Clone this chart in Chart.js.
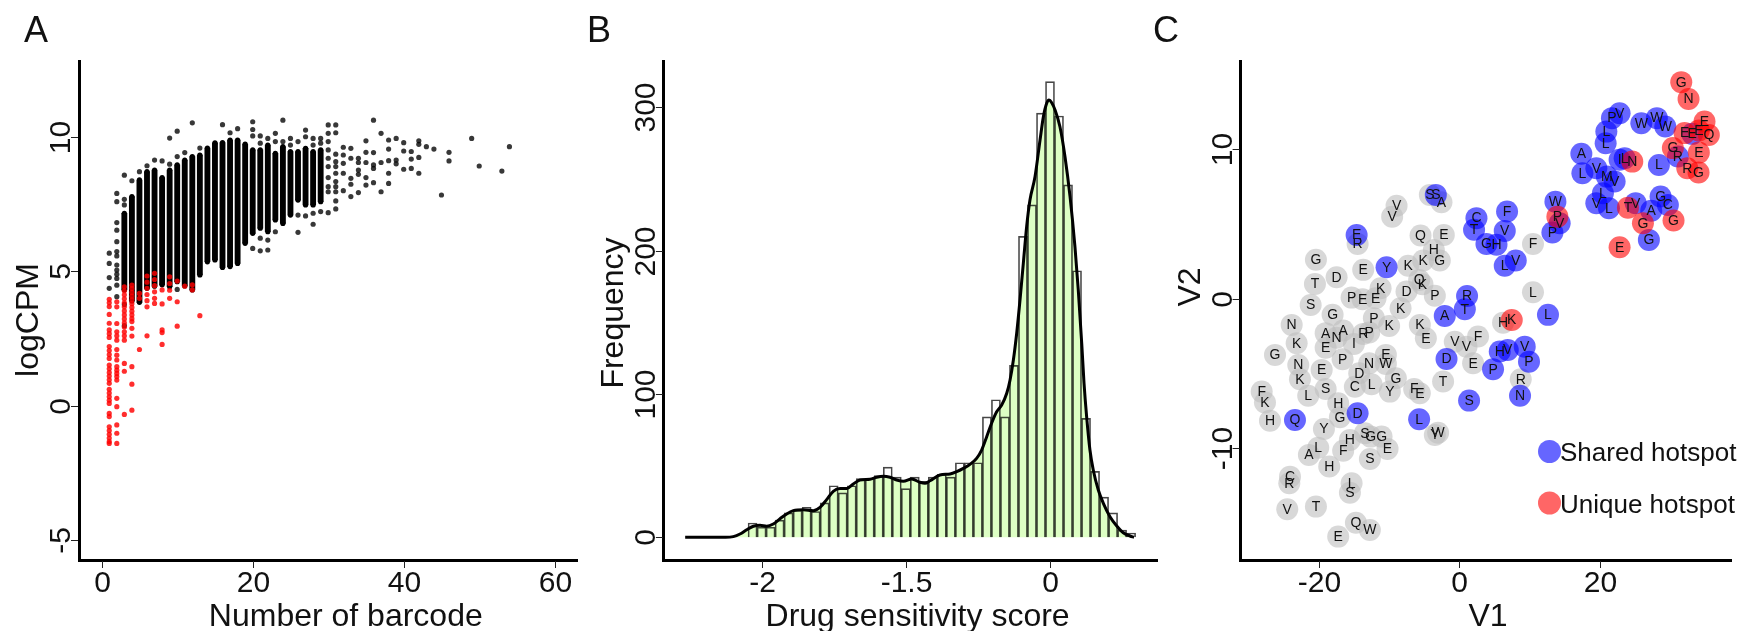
<!DOCTYPE html>
<html>
<head>
<meta charset="utf-8">
<script src="https://cdn.jsdelivr.net/npm/chart.js@4.4.0/dist/chart.umd.min.js"></script>
<style>
  body { margin: 0; background: #fff; }
  #wrap { position: relative; width: 1742px; height: 631px; }
  #wrap canvas { position: absolute; left: 0; top: 0; }
</style>
</head>
<body>
<div id="wrap">
  <canvas id="chartA" width="1742" height="631"></canvas>
  <canvas id="chartB" width="1742" height="631"></canvas>
  <canvas id="chartC" width="1742" height="631"></canvas>
</div>
<script>
const FONT = '"Liberation Sans", Arial, sans-serif';

// ---------- Panel A : logCPM vs number of barcode ----------
// dense black columns (barcode count, lowest and highest logCPM of the solid run)
const colX  = [3, 4, 5, 6, 7, 8, 9, 10, 11, 12, 13, 14, 15, 16, 17, 18, 19, 20, 21, 22, 23, 24, 25, 26, 27, 28, 29];
const colLo = [4.31, 3.90, 3.85, 4.37, 4.45, 4.50, 4.43, 4.62, 4.46, 4.31, 4.87, 5.36, 5.43, 5.15, 5.18, 5.30, 6.05, 6.42, 6.61, 6.48, 6.92, 6.79, 7.10, 7.66, 7.48, 7.48, 7.60];
const colHi = [7.17, 7.79, 8.41, 8.72, 8.78, 8.50, 8.78, 8.97, 9.15, 9.28, 9.34, 9.60, 9.79, 9.80, 9.90, 9.90, 9.75, 9.53, 9.53, 9.71, 9.40, 9.65, 9.47, 9.47, 9.59, 9.47, 9.53];
// single black dots
const blackDotX = [1, 2, 3, 4, 5, 6, 7, 8, 9, 10, 11, 12, 13, 16, 17, 18, 20, 21, 22, 23, 24, 25, 26, 27, 28, 29, 30, 31, 32, 33, 34, 35, 36, 37, 38, 39, 40, 41, 42, 43, 44, 45, 46, 49, 50, 53, 54];
const blackDotY = [
  [5.68, 5.30, 4.77, 4.37],
  [7.91, 7.60, 6.82, 6.54, 6.11, 5.74, 5.58, 5.24, 5.05, 4.90, 4.74, 4.49, 4.06],
  [8.59, 7.69, 7.48, 3.77, 2.98],
  [8.38], [8.72], [8.94], [9.15], [9.12], [9.97, 9.00], [10.23, 9.28, 4.33], [9.43], [10.54], [9.60],
  [10.47], [10.17], [10.32],
  [10.58, 10.29, 10.05, 5.86],
  [10.05, 9.78, 6.24, 5.77],
  [9.96, 6.17, 5.80],
  [10.15, 9.84, 6.48],
  [10.64, 9.84],
  [9.96, 9.71],
  [9.84, 7.10, 6.46],
  [10.27, 10.02, 7.07],
  [9.96, 9.71, 7.17, 6.76],
  [9.96, 9.78, 7.23],
  [10.46, 10.15, 9.84, 9.53, 9.22, 8.91, 8.50, 8.16, 7.97, 7.19],
  [10.46, 10.17, 9.37, 9.09, 8.91, 8.66, 8.35, 8.16, 7.97, 7.63, 7.33],
  [9.63, 9.34, 9.03, 8.66, 8.01],
  [9.59, 9.22, 8.47, 8.25, 7.79],
  [9.22, 9.06, 8.78, 8.62, 7.94],
  [9.87, 9.44, 9.06, 8.50, 8.22],
  [10.64, 9.43, 8.97, 8.84, 8.31],
  [10.15, 9.06, 7.97],
  [9.90, 9.56, 9.13, 8.66, 8.28],
  [9.96, 9.15, 9.01],
  [9.80, 9.49, 8.81],
  [9.47, 9.19, 8.84],
  [9.87, 9.74, 9.25, 8.66],
  [9.65], [9.56], [7.85], [9.44, 9.12], [9.96], [8.93], [8.74], [9.65]
];
// red (filtered) dots
const redDotX = [1, 2, 3, 4, 5, 6, 7, 8, 9, 10, 11, 12, 13];
const redDotY = [
  [3.96, 3.83, 3.69, 3.40, 3.07, 2.82, 2.68, 2.54, 2.20, 2.05, 1.90, 1.76, 1.51, 1.37, 1.23, 1.10, 0.96, 0.83, 0.61, 0.47, 0.33, 0.20, 0.08, -0.29, -0.41, -0.79, -0.93, -1.07, -1.21, -1.34, -1.41],
  [3.87, 3.68, 3.06, 2.75, 2.60, 2.44, 2.09, 1.88, 1.70, 1.45, 1.32, 1.20, 1.08, 0.95, 0.27, -0.04, -0.72, -1.03, -1.41],
  [4.43, 4.28, 4.13, 3.98, 3.83, 3.68, 3.53, 3.38, 3.23, 3.08, 2.93, 2.75, 2.60, 2.44, 1.57, 1.28, -0.33],
  [4.49, 4.36, 4.22, 4.08, 3.94, 3.80, 3.66, 3.52, 3.38, 3.24, 3.13, 2.88, 2.59, 1.45, 0.80, -0.17],
  [4.18, 4.00, 2.09],
  [4.83, 4.60, 4.37, 4.14, 3.91, 3.68, 2.60],
  [4.93, 4.70, 4.47, 4.24, 4.00, 3.81],
  [4.31, 3.79, 2.82, 2.72, 2.28],
  [4.80, 4.55, 4.30, 4.00],
  [4.64, 3.87, 2.96],
  [4.45],
  [4.50, 4.31],
  [3.35]
];
const aXTicks = [0, 20, 40, 60];
const aYTicks = [-5, 0, 5, 10];

// ---------- Panel B : drug sensitivity histogram ----------
const binCenters = [-2.0625, -2.0, -1.9375, -1.875, -1.8125, -1.75, -1.6875, -1.625, -1.5625, -1.5, -1.4375, -1.375, -1.3125, -1.25, -1.1875,
  -1.125, -1.0625, -1.0, -0.9375, -0.875, -0.8125, -0.75, -0.6875, -0.625, -0.5625, -0.5, -0.4375, -0.375, -0.3125, -0.25,
  -0.1875, -0.125, -0.0625, 0, 0.0625, 0.125, 0.1875, 0.25, 0.3125, 0.375, 0.4375, 0.5, 0.5625];
const binCounts = [10, 7, 7, 12, 17, 19, 21, 18, 24, 36, 31, 36, 41, 41, 43, 49, 42, 34, 42, 39, 42, 44, 42, 52, 52,
  52, 84, 96, 84, 120, 210, 232, 296, 318, 294, 246, 186, 83, 46, 28, 17, 5, 3];
const densX = [-2.53, -2.25, -2.196, -2.150, -2.103, -2.057, -2.011, -1.965, -1.919, -1.872, -1.826, -1.780, -1.711, -1.641, -1.595,
  -1.549, -1.503, -1.456, -1.410, -1.364, -1.318, -1.248, -1.202, -1.156, -1.110, -1.063, -1.017, -0.959, -0.902, -0.867,
  -0.832, -0.763, -0.693, -0.647, -0.601, -0.555, -0.509, -0.474, -0.439, -0.405, -0.370, -0.335, -0.300, -0.277, -0.254,
  -0.231, -0.208, -0.185, -0.162, -0.139, -0.104, -0.069, -0.046, -0.023, -0.007, 0.012, 0.035, 0.069, 0.104, 0.139,
  0.173, 0.196, 0.220, 0.236, 0.254, 0.277, 0.300, 0.335, 0.370, 0.416, 0.463, 0.508, 0.555, 0.583];
const densY = [0, 0, 0.5, 2.3, 5.3, 7.7, 8.4, 7.7, 9.3, 13, 16.3, 18.6, 19.3, 18.6, 20.9,
  26.3, 32.1, 34, 34, 37.2, 40, 40.5, 41.9, 42.6, 41.9, 40, 39.1, 40.7, 38.4, 37.7,
  39.5, 43.5, 44.2, 45.8, 48.1, 50.9, 55.1, 60.9, 70.2, 79.6, 87.6, 92.3, 100.5, 109.8, 123.7,
  142.4, 165.6, 191.2, 216.8, 235.4, 251.6, 277.3, 293.5, 302.9, 305.2, 303.3, 298.2, 286.5, 265.6, 237.7,
  202.8, 172.6, 135.4, 107.5, 84.2, 60.9, 47, 33, 23.7, 14.4, 7.9, 3.2, 0.9, 0];
const bXTicks = [-2, -1, 0];
const bXLabels = ['-2', '-1.5', '0'];
const bYTicks = [0, 100, 200, 300];

// ---------- Panel C : amino-acid map ----------
const grayV1 = [-4.23, -2.57, -8.98, -9.61, -14.54, -5.56, -2.24, -3.66, -2.81, -7.33, -5.19, -13.74, -20.49, -17.54, -20.63, -5.76, -5.28, -7.56, -3.52, -15.40,
  -13.83, -11.98, -11.26, -21.24, -8.41, -18.11, -23.95, -19.10, -16.60, -17.54, -13.74, -12.89, -12.22, -10.04, -5.66, -4.80, -23.24, -19.10, -15.07, -26.33,
  6.22, -0.67, 1.00, 2.65, -23.01, -22.77, -19.67, -16.68, -14.31, -12.89, -10.51, -10.51, -9.08, -14.93, -12.55, -9.94, -19.10, -21.59, -28.23, -27.76,
  -27.05, -17.31, -17.07, -19.35, -13.50, -12.69, -11.12, -10.27, -15.64, -16.60, -20.16, -21.49, -12.79, -18.59, -24.19, -24.29, -15.40, -15.64, -24.58, -20.49,
  -14.78, -12.79, -17.31, -6.47, -5.66, -3.52, -3.05, 1.94, -2.34, 8.74, 10.49, 10.49];
const grayV2 = [6.91, 6.42, 6.18, 5.46, 3.64, 4.20, 4.24, 3.24, 2.53, 2.19, 2.53, 1.91, 2.58, 1.42, 0.97, 1.24, 0.95, 0.46, 0.19, 0.06,
  -0.05, 0.02, 0.69, -0.43, -0.65, -1.09, -1.76, -2.31, -2.14, -2.61, -2.36, -2.27, -1.31, -1.83, -1.76, -2.65, -2.98, -3.28, -3.03, -3.76,
  -1.61, -2.88, -3.21, -2.54, -4.43, -5.38, -4.76, -4.05, -4.98, -4.32, -3.76, -4.36, -5.32, -5.88, -5.72, -6.21, -6.03, -6.48, -6.21, -6.94,
  -8.15, -6.98, -7.92, -8.70, -8.99, -9.21, -9.21, -10.03, -9.43, -10.15, -9.95, -10.43, -10.70, -11.21, -11.88, -12.32, -12.32, -12.95, -14.06, -13.88,
  -14.95, -15.44, -15.88, -6.03, -6.32, -9.10, -8.95, -4.32, -5.54, -5.38, 3.64, 0.42];
const grayAA = 'SAVVRQEHGKKEGDTQKDPPEEKSKGNAANRPPKKEKEIGHVVFNKEPDNEWGCLYSLFKHHGYSGGEHFLASHCRLSVTQWEFEYWETRFL'.split('');

const blueV1 = [-3.38, -14.68, -10.41, -2.10, 1.08, 0.76, -1.85, 2.42, 2.08, 6.79, 6.46, 3.85, 5.28, 6.46, 8.03, -23.48, -14.54, -5.76, 1.37, 4.79,
  5.75, 6.89, 9.31, 9.92, 8.64, 12.63, 13.69, 14.30, 13.26, 21.76, 22.85, 25.95, 28.17, 29.37, 33.22, 20.96, 20.86, 17.39, 17.54, 19.53,
  22.85, 23.57, 21.04, 22.14, 20.47, 19.53, 21.33, 31.17, 28.46, 25.14, 27.37, 28.70, 29.74, 27.03];
const blueV2 = [6.91, 4.24, 2.09, -1.16, 0.17, -0.71, -4.03, 5.36, 4.58, 5.80, 4.51, 3.64, 3.58, 2.19, 2.53, -8.10, -7.65, -8.05, -6.81, -4.72,
  -3.54, -3.43, -3.21, -4.21, -6.48, -1.09, 6.46, 5.02, 4.40, 12.03, 12.36, 11.69, 12.03, 11.47, 10.98, 11.13, 10.36, 9.65, 8.36, 8.69,
  9.25, 9.36, 8.13, 7.80, 7.02, 6.36, 6.02, 9.47, 8.91, 6.36, 5.86, 6.80, 6.24, 3.91];
const blueAA = 'SEYARTDCTFVGHLVQDLSPHVVPNLWVPPVWWWELLALVILMVLVLRLVAGCG'.split('');

const redV1 = [7.46, 13.97, 31.65, 32.69, 32.12, 34.16, 34.97, 35.59, 24.66, 30.45, 34.16, 32.51, 34.12, 24.04, 26.18, 30.55, 22.85];
const redV2 = [-1.43, 5.46, 14.43, 13.30, 11.03, 11.20, 11.80, 10.91, 9.13, 10.03, 9.73, 8.69, 8.40, 6.06, 5.02, 5.20, 3.42];
const redAA = 'KPGNEEEQNGERGTGGE'.split('');
const cXTicks = [-20, 0, 20];
const cYTicks = [-10, 0, 10];

const GRAY = 'rgba(190,190,190,0.6)';
const BLUE = 'rgba(0,0,255,0.6)';
const RED = 'rgba(255,0,0,0.6)';

// ---------- helpers ----------
function pad(left, top, right, bottom) {
  return { left: left, top: top, right: 1742 - right, bottom: 631 - bottom };
}

function axis(min, max) {
  return {
    type: 'linear', min: min, max: max, offset: false,
    grid: { display: false },
    ticks: { display: false },
    border: { display: true, color: '#000', width: 3 },
    afterFit: function (s) { if (s.isHorizontal()) s.height = 0; else s.width = 0; }
  };
}

function spread(xs, ys) {
  const out = [];
  xs.forEach((x, i) => ys[i].forEach(y => out.push({ x: x, y: y })));
  return out;
}

/**
 * R style axes: thin tick marks, rotated y labels, titles and the panel letter
 */
const rAxes = {
  id: 'rAxes',
  afterDraw(chart, args, o) {
    const ctx = chart.ctx, xs = chart.scales.x, ys = chart.scales.y, a = chart.chartArea;
    ctx.save();
    ctx.fillStyle = '#111';
    ctx.strokeStyle = '#222';
    ctx.lineWidth = 1;
    ctx.font = '30px ' + FONT;
    ctx.textAlign = 'center';
    ctx.textBaseline = 'alphabetic';
    o.xTicks.forEach((v, i) => {
      const px = Math.round(xs.getPixelForValue(v)) + 0.5;
      ctx.beginPath(); ctx.moveTo(px, a.bottom + 1); ctx.lineTo(px, a.bottom + 8); ctx.stroke();
      ctx.fillText(o.xLabels ? o.xLabels[i] : String(v), px, a.bottom + 32);
    });
    o.yTicks.forEach(v => {
      const py = Math.round(ys.getPixelForValue(v)) + 0.5;
      ctx.beginPath(); ctx.moveTo(a.left - 1, py); ctx.lineTo(a.left - 8, py); ctx.stroke();
      ctx.save();
      ctx.translate(a.left - 9, py);
      ctx.rotate(-Math.PI / 2);
      ctx.fillText(String(v), 0, 0);
      ctx.restore();
    });
    ctx.font = '32px ' + FONT;
    ctx.fillText(o.xTitle, o.xTitleX, a.bottom + 66);
    ctx.save();
    ctx.translate(a.left - 41, o.yTitleY);
    ctx.rotate(-Math.PI / 2);
    ctx.fillText(o.yTitle, 0, 0);
    ctx.restore();
    ctx.font = '36px ' + FONT;
    ctx.textAlign = 'left';
    ctx.fillText(o.letter, o.letterX, 42);
    ctx.restore();
  }
};

const aaLetters = {
  id: 'aaLetters',
  afterDatasetsDraw(chart) {
    const ctx = chart.ctx;
    ctx.save();
    ctx.font = '14px ' + FONT;
    ctx.fillStyle = '#111';
    ctx.textAlign = 'center';
    ctx.textBaseline = 'middle';
    chart.data.datasets.forEach((ds, i) => {
      if (!ds.letters) return;
      chart.getDatasetMeta(i).data.forEach((pt, j) => ctx.fillText(ds.letters[j], pt.x, pt.y + 0.5));
    });
    ctx.restore();
  }
};

const hotspotLegend = {
  id: 'hotspotLegend',
  afterDraw(chart) {
    const ctx = chart.ctx;
    ctx.save();
    ctx.font = '26px ' + FONT;
    ctx.fillStyle = BLUE;
    ctx.beginPath(); ctx.arc(1549.5, 451.5, 11.5, 0, Math.PI * 2); ctx.fill();
    ctx.fillStyle = RED;
    ctx.beginPath(); ctx.arc(1549.5, 503, 11.5, 0, Math.PI * 2); ctx.fill();
    ctx.fillStyle = '#111';
    ctx.textAlign = 'left';
    ctx.textBaseline = 'alphabetic';
    ctx.fillText('Shared hotspot', 1560, 460.7);
    ctx.fillText('Unique hotspot', 1560, 513);
    ctx.restore();
  }
};

const base = {
  responsive: false,
  animation: false,
  devicePixelRatio: 1
};

// ---------- Panel A ----------
const colPoints = [];
colX.forEach((x, i) => { colPoints.push({ x: x, y: colLo[i] }, { x: x, y: colHi[i] }); });

new Chart(document.getElementById('chartA'), {
  type: 'scatter',
  data: {
    datasets: [
      { type: 'scatter', data: spread(redDotX, redDotY), backgroundColor: 'rgba(255,0,0,0.82)',
        pointRadius: 2.6, borderWidth: 0, order: 1 },
      { type: 'scatter', data: spread(blackDotX, blackDotY), backgroundColor: 'rgba(0,0,0,0.78)',
        pointRadius: 2.6, borderWidth: 0, order: 2 },
      { type: 'scatter', data: colPoints, backgroundColor: '#000', pointRadius: 2.6, borderWidth: 0, order: 3 },
      { type: 'bar', data: colX.map((x, i) => ({ x: x, y: [colLo[i], colHi[i]] })),
        backgroundColor: '#000', barThickness: 5.2, borderWidth: 0, order: 4 }
    ]
  },
  options: Object.assign({}, base, {
    layout: { padding: pad(79, 61, 577.6, 560) },
    scales: { x: axis(-3.006, 63.03), y: axis(-5.755, 12.844) },
    plugins: {
      legend: { display: false }, tooltip: { enabled: false },
      rAxes: { xTicks: aXTicks, yTicks: aYTicks, xTitle: 'Number of barcode', xTitleX: 345.8,
        yTitle: 'logCPM', yTitleY: 320, letter: 'A', letterX: 24 }
    }
  }),
  plugins: [rAxes]
});

// ---------- Panel B ----------
const densPoints = densX.map((x, i) => ({ x: x, y: densY[i] }));

new Chart(document.getElementById('chartB'), {
  type: 'scatter',
  data: {
    datasets: [
      { type: 'line', data: densPoints, borderColor: '#000', borderWidth: 3, pointRadius: 0,
        cubicInterpolationMode: 'monotone', fill: false, order: 1 },
      { type: 'bar', data: binCenters.map((x, i) => ({ x: x, y: binCounts[i] })),
        backgroundColor: 'rgba(0,0,0,0)', borderColor: 'rgba(0,0,0,0.72)', borderWidth: 1,
        barPercentage: 1, categoryPercentage: 1, order: 2 },
      { type: 'line', data: densPoints, borderWidth: 0, borderColor: 'rgba(0,0,0,0)', pointRadius: 0,
        cubicInterpolationMode: 'monotone', fill: 'origin', backgroundColor: 'rgb(221,255,196)', order: 3 }
    ]
  },
  options: Object.assign({}, base, {
    layout: { padding: pad(663.9, 61, 1157, 560) },
    scales: { x: axis(-2.6775, 0.742), y: axis(-15.84, 332.4) },
    plugins: {
      legend: { display: false }, tooltip: { enabled: false },
      rAxes: { xTicks: bXTicks, xLabels: bXLabels, yTicks: bYTicks, xTitle: 'Drug sensitivity score', xTitleX: 917.6,
        yTitle: 'Frequency', yTitleY: 313, letter: 'B', letterX: 587 }
    }
  }),
  plugins: [rAxes]
});

// ---------- Panel C ----------
function pts(v1, v2) { return v1.map((x, i) => ({ x: x, y: v2[i] })); }

new Chart(document.getElementById('chartC'), {
  type: 'scatter',
  data: {
    datasets: [
      { data: pts(redV1, redV2), letters: redAA, backgroundColor: RED, pointRadius: 11, borderWidth: 0, order: 1 },
      { data: pts(blueV1, blueV2), letters: blueAA, backgroundColor: BLUE, pointRadius: 11, borderWidth: 0, order: 2 },
      { data: pts(grayV1, grayV2), letters: grayAA, backgroundColor: GRAY, pointRadius: 11, borderWidth: 0, order: 3 }
    ]
  },
  options: Object.assign({}, base, {
    layout: { padding: pad(1240.6, 61, 1731.5, 560) },
    scales: { x: axis(-31.24, 38.75), y: axis(-17.44, 15.84) },
    plugins: {
      legend: { display: false }, tooltip: { enabled: false },
      rAxes: { xTicks: cXTicks, yTicks: cYTicks, xTitle: 'V1', xTitleX: 1488,
        yTitle: 'V2', yTitleY: 287, letter: 'C', letterX: 1153 }
    }
  }),
  plugins: [aaLetters, hotspotLegend, rAxes]
});
</script>
</body>
</html>
